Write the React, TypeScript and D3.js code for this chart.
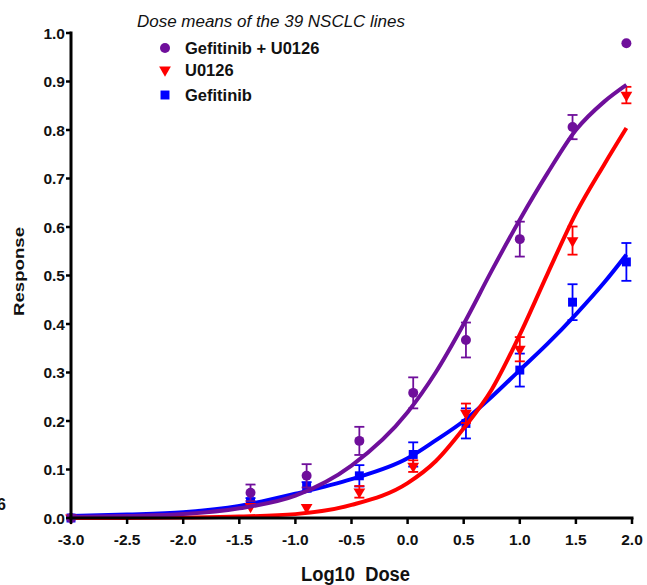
import * as d3 from "d3";

const doses = [-3.0, -1.4, -0.9, -0.43, 0.05, 0.52, 1.0, 1.47, 1.95];

const comboMean = [0.0, 0.052, 0.087, 0.159, 0.258, 0.367, 0.575, 0.806, 0.979];
const comboErr = [0.0, 0.017, 0.024, 0.029, 0.032, 0.036, 0.036, 0.025, 0.004];

const u0126Mean = [0.0, 0.024, 0.022, 0.054, 0.107, 0.216, 0.348, 0.572, 0.872];
const u0126Err = [0.0, 0.006, 0.005, 0.012, 0.012, 0.02, 0.025, 0.029, 0.017];

const gefMean = [0.0, 0.033, 0.064, 0.087, 0.131, 0.195, 0.305, 0.445, 0.528];
const gefErr = [0.0, 0.008, 0.01, 0.022, 0.025, 0.031, 0.034, 0.037, 0.039];

// fitted curves
const curveX = [-3, -2.5, -2, -1.5, -1, -0.5, 0, 0.25, 0.5, 0.75, 1, 1.25, 1.5, 1.75, 1.95];
const comboCurve = [0.002, 0.004, 0.008, 0.02, 0.046, 0.108, 0.218, 0.3, 0.4, 0.51, 0.615, 0.712, 0.8, 0.858, 0.893];
const u0126Curve = [0.0, 0.0, 0.001, 0.003, 0.008, 0.027, 0.072, 0.117, 0.185, 0.265, 0.378, 0.505, 0.628, 0.728, 0.804];
const gefCurve = [0.004, 0.007, 0.012, 0.025, 0.05, 0.08, 0.123, 0.16, 0.2, 0.25, 0.305, 0.36, 0.42, 0.485, 0.543];

const xTicks = [-3.0, -2.5, -2.0, -1.5, -1.0, -0.5, 0.0, 0.5, 1.0, 1.5, 2.0];
const yTicks = [0.0, 0.1, 0.2, 0.3, 0.4, 0.5, 0.6, 0.7, 0.8, 0.9, 1.0];

const legendTitle = "Dose means of the 39 NSCLC lines";
const legendLabels = ["Gefitinib + U0126", "U0126", "Gefitinib"];

const PURPLE = "#6f0f9b";
const RED = "#ff0000";
const BLUE = "#0000ff";
const FONT = "'Liberation Sans', Arial, Helvetica, sans-serif";

const W = 647;
const H = 585;

const x = d3.scaleLinear().domain([-3, 2]).range([71, 632]);
const y = d3.scaleLinear().domain([0, 1]).range([518, 33]);

const line = d3
  .line<number>()
  .x((_, i) => x(curveX[i]))
  .y((d) => y(d))
  .curve(d3.curveMonotoneX);

const tri = d3.symbol().type(d3.symbolTriangle).size(60)();
const sq = d3.symbol().type(d3.symbolSquare).size(80)();
const circ = d3.symbol().type(d3.symbolCircle).size(78)();

type Series = {
  mean: number[];
  err: number[];
  curve: number[];
  color: string;
  marker: string | null;
  flip: boolean;
};

const series: Series[] = [
  { mean: gefMean, err: gefErr, curve: gefCurve, color: BLUE, marker: sq, flip: false },
  { mean: u0126Mean, err: u0126Err, curve: u0126Curve, color: RED, marker: tri, flip: true },
  { mean: comboMean, err: comboErr, curve: comboCurve, color: PURPLE, marker: circ, flip: false },
];

const legendColors = [PURPLE, RED, BLUE];
const legendMarkers = [circ, tri, sq];

export default function App() {
  return (
    <svg
      width={W}
      height={H}
      style={{ position: "absolute", left: 0, top: 0, background: "#fff" }}
      fontFamily={FONT}
    >
      {/* series: curve, error bars, markers */}
      {series.map((s, si) => (
        <g key={si}>
          <path d={line(s.curve) ?? ""} fill="none" stroke={s.color} strokeWidth={4} />
          {doses.map((d, i) => {
            const cx = x(d);
            const top = y(s.mean[i] + s.err[i]);
            const bot = y(s.mean[i] - s.err[i]);
            return (
              <g key={i} stroke={s.color} strokeWidth={1.8}>
                {s.err[i] > 0.006 && (
                  <>
                    <line x1={cx} x2={cx} y1={top} y2={bot} />
                    <line x1={cx - 5} x2={cx + 5} y1={top} y2={top} />
                    <line x1={cx - 5} x2={cx + 5} y1={bot} y2={bot} />
                  </>
                )}
              </g>
            );
          })}
          {doses.map((d, i) => (
            <path
              key={"m" + i}
              d={s.marker ?? ""}
              fill={s.color}
              transform={`translate(${x(d)},${y(s.mean[i])})${s.flip ? " rotate(180)" : ""}`}
            />
          ))}
        </g>
      ))}

      {/* y axis */}
      <g>
        <line x1={71} x2={71} y1={y(1) - 1.5} y2={y(0) + 1.5} stroke="#000" strokeWidth={3} />
        {yTicks.map((t) => (
          <g key={t}>
            <line x1={66} x2={71} y1={y(t)} y2={y(t)} stroke="#000" strokeWidth={2.5} />
            <text
              x={65}
              y={y(t) + 5.5}
              textAnchor="end"
              fontSize={15.5}
              fontWeight="bold"
              fill="#111"
            >
              {t.toFixed(1)}
            </text>
          </g>
        ))}
      </g>

      {/* x axis */}
      <g>
        <line x1={x(-3) - 1.5} x2={x(2) + 1.5} y1={518} y2={518} stroke="#000" strokeWidth={3} />
        {xTicks.map((t) => (
          <g key={t}>
            <line x1={x(t)} x2={x(t)} y1={518} y2={524} stroke="#000" strokeWidth={2.5} />
            <text
              x={x(t)}
              y={545}
              textAnchor="middle"
              fontSize={15.5}
              fontWeight="bold"
              fill="#111"
            >
              {t.toFixed(1)}
            </text>
          </g>
        ))}
      </g>

      {/* axis titles */}
      <text
        x={301}
        y={581}
        fontSize={20}
        fontWeight="bold"
        textLength={109}
        lengthAdjust="spacingAndGlyphs"
        fill="#111"
        style={{ whiteSpace: "pre" }}
      >
        {"Log10  Dose"}
      </text>
      <text
        transform="translate(24,316) rotate(-90)"
        fontSize={15.5}
        fontWeight="bold"
        textLength={89}
        lengthAdjust="spacingAndGlyphs"
        fill="#111"
      >
        Response
      </text>
      {/* clipped glyph at the left edge */}
      <text x={6} y={510} textAnchor="end" fontSize={16} fontWeight="bold" fill="#111">
        6
      </text>

      {/* legend */}
      <text x={137} y={27} fontSize={16} fontStyle="italic" fill="#111" textLength={268} lengthAdjust="spacingAndGlyphs">
        {legendTitle}
      </text>
      {legendLabels.map((lab, i) => {
        const cy = [48, 70, 95][i];
        return (
          <g key={lab}>
            <path
              d={legendMarkers[i]}
              fill={legendColors[i]}
              transform={`translate(165,${cy})${i === 1 ? " rotate(180)" : ""}`}
            />
            <text x={185} y={cy + 6} fontSize={16.5} fontWeight="bold" fill="#111">
              {lab}
            </text>
          </g>
        );
      })}
    </svg>
  );
}
